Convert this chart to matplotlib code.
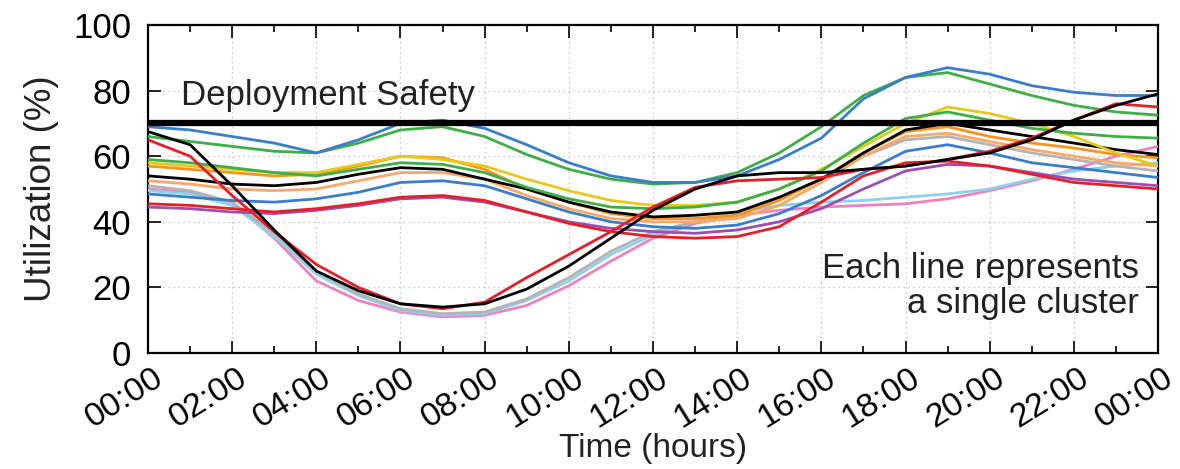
import matplotlib
matplotlib.use("Agg")
import matplotlib.pyplot as plt
from matplotlib.ticker import MultipleLocator
from matplotlib.transforms import ScaledTranslation

plt.rcParams['font.family'] = ['Liberation Sans', 'DejaVu Sans']

# hourly samples, 00:00 .. 24:00
hours = list(range(25))
tick_labels = ["00:00", "02:00", "04:00", "06:00", "08:00", "10:00", "12:00",
               "14:00", "16:00", "18:00", "20:00", "22:00", "00:00"]
safety_level = 70

# utilization (%) per cluster
blue_top = [69, 68, 66, 64, 61, 65, 70, 71, 68.5, 63.5, 58, 54, 52, 52, 54, 59,
            65.5, 77.5, 84, 87, 85, 81.5, 79.5, 78.5, 78.5]
green_top = [66, 64.5, 63, 61.5, 61, 64, 68, 69, 66, 60.5, 56, 53, 51.5, 52, 55, 61,
             69, 78.5, 84, 85.5, 82, 78.5, 75.5, 73.5, 72.5]
black_dip = [67.5, 63.5, 51, 37.5, 25, 19, 15, 14, 15, 19.5, 26.5, 35, 43.5, 50, 54, 55,
             55, 56, 57, 59, 61, 65, 71, 75.5, 79]
red_dip = [65, 60, 48, 37, 27, 20, 15, 13.5, 15.5, 23, 30, 37, 44.5, 50.5, 52.5, 53,
           53.5, 56, 57, 59, 61.5, 65.5, 71, 76, 75]
silver_dip = [51, 49.5, 46, 36.5, 25, 18, 13.5, 12, 12.5, 16.5, 23, 31, 37, 40, 42, 47,
              53, 60, 65, 66, 63.5, 61, 59, 57, 55.5]
cyan_dip = [49.5, 48.5, 45, 35.5, 24, 17.5, 13, 11.5, 12, 16, 22, 30, 36, 40, 43, 45,
            46, 46.5, 47.5, 48.5, 50, 53, 55.5, 57, 58]
pink_dip = [50, 49, 46, 35, 22, 16, 12.5, 11, 11.5, 14.5, 20.5, 28, 35, 39.5, 42, 43.5,
            44.5, 45, 45.5, 47, 49.5, 52.5, 56, 60, 63]
green_low = [59, 58, 56.5, 55, 54, 56, 58, 57.5, 55, 50.5, 47, 44.5, 44, 44.5, 46, 50,
             55.5, 64, 71.5, 73.5, 71, 68.5, 67, 66, 65.5]
yellow = [58, 57, 56, 55, 55, 57.5, 60, 59, 57, 53, 49.5, 46.5, 45, 45, 46, 50,
          56, 63, 70, 75, 73, 70, 66, 61, 57]
orange = [57, 56, 55, 54, 54.5, 57, 60, 59.5, 56, 50, 46, 42.5, 41, 41, 42, 46.5,
          53, 61, 67.5, 69, 66, 64, 62.5, 60.5, 59.5]
salmon = [52.5, 51.5, 50, 49.5, 50, 52.5, 55, 55, 53, 48, 44, 41, 40, 40, 41, 45,
          52, 60, 66, 67, 64.5, 62, 60, 58, 57]
black_flat = [54, 53, 51.5, 51, 52, 54.5, 56.5, 56, 53, 50, 46, 43, 41.5, 42, 43, 47.5,
              53, 61, 68, 70, 68, 66, 64, 62, 60.5]
blue_low = [48.5, 47.5, 46.5, 46, 47, 49, 52, 52.5, 51, 47, 43, 40, 38.5, 38, 39, 42.5,
            48, 55, 61.5, 63.5, 61, 58, 56.5, 55, 53.5]
red_flat = [45.5, 45, 44, 43, 44, 45.5, 47.5, 48, 46.5, 43, 39.5, 37, 35.5, 35, 35.5,
            38.5, 46, 54, 58, 58.5, 57, 54.5, 52, 51, 50]
purple = [44.5, 44, 43, 42.5, 43.5, 45, 47, 47.5, 46, 43, 40, 38, 37, 36.5, 37.5, 40,
          44, 50, 55.5, 57.5, 57, 55, 53, 52, 51]

series = [
    (pink_dip, '#ee82c0'),
    (cyan_dip, '#8fd0ea'),
    (silver_dip, '#b4b4b4'),
    (purple, '#9b4fb0'),
    (red_flat, '#e3202a'),
    (blue_low, '#3a7dc9'),
    (salmon, '#f6a96b'),
    (orange, '#f7941d'),
    (black_flat, '#000000'),
    (yellow, '#e8c81a'),
    (green_low, '#3fae49'),
    (green_top, '#3fae49'),
    (blue_top, '#3a7dc9'),
    (red_dip, '#e3202a'),
    (black_dip, '#000000'),
]

fs = 25

fig = plt.figure(figsize=(11.8, 4.69), dpi=100)
ax = fig.add_axes([0.1254, 0.2473, 0.8560, 0.6994])

for values, color in series:
    ax.plot(hours, values, color=color, lw=2.0, zorder=3)

ax.axhline(safety_level, color='black', lw=4.5, zorder=4)

ax.set_xlim(0, 24)
ax.set_ylim(0, 100)
ax.xaxis.set_minor_locator(MultipleLocator(1))
ax.yaxis.set_major_locator(MultipleLocator(20))
ax.set_xticks(range(0, 25, 2))
ax.set_xticklabels(tick_labels, rotation=32, ha='right', rotation_mode='anchor',
                   fontsize=24.5)

ax.tick_params(which='both', direction='in', top=True, right=True, width=1.2,
               colors='black')
ax.tick_params(axis='y', labelsize=fs, pad=12)
ax.tick_params(axis='x', pad=7)
ax.tick_params(which='major', length=9)
ax.tick_params(which='minor', length=5)

# gnuplot-style labels sit a little right of their tick
shift = ScaledTranslation(4 / 100, 0, fig.dpi_scale_trans)
for lab in ax.get_xticklabels():
    lab.set_transform(lab.get_transform() + shift)

ax.grid(True, which='major', color='#b8b8b8', ls=(0, (1, 3)), lw=0.9, zorder=1)
for s in ax.spines.values():
    s.set_linewidth(1.6)

ax.set_xlabel("Time (hours)", fontsize=24, color='#222222')
ax.xaxis.set_label_coords(0.5, -0.245)
ax.set_ylabel("Utilization (%)", fontsize=26.5, labelpad=10, color='#222222')

ax.text(0.78, 75.5, "Deployment Safety", fontsize=fs, va='baseline', color='#222222',
        zorder=5)
ax.text(23.55, 23, "Each line represents", fontsize=fs, ha='right', va='baseline',
        color='#222222')
ax.text(23.55, 12.3, "a single cluster", fontsize=fs, ha='right', va='baseline',
        color='#222222')

fig.savefig("out.png", dpi=100)
